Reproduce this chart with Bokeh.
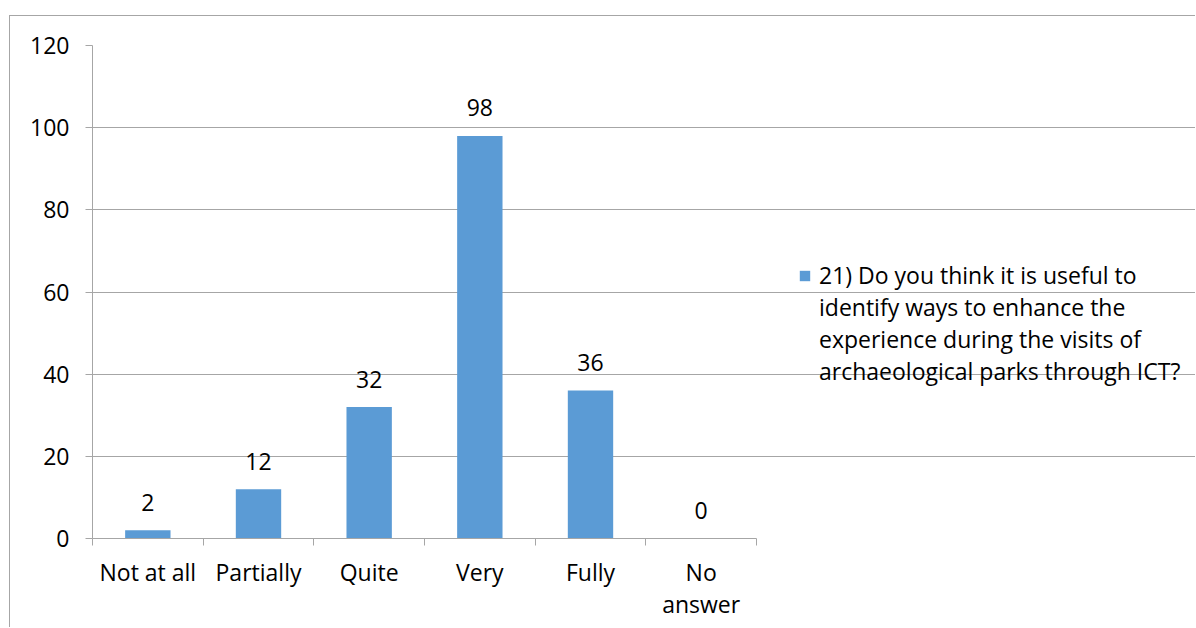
from bokeh.plotting import figure
from bokeh.models import (ColumnDataSource, FixedTicker, LabelSet, Legend, LegendItem, Range1d)
from bokeh.core.properties import value
from bokeh.embed import file_html
from bokeh.resources import INLINE

categories = ["Not at all", "Partially", "Quite", "Very", "Fully", "No answer"]
tick_labels = ["Not at all", "Partially", "Quite", "Very", "Fully", "No\nanswer"]
values = [2, 12, 32, 98, 36, 0]
series_name_lines = ["21) Do you think it is useful to",
                     "identify ways to enhance the",
                     "experience during the visits of",
                     "archaeological parks through ICT?"]
y_ticks = [0, 20, 40, 60, 80, 100, 120]

FONT = "Open Sans"
FS = "23px"
LH = 1.02
GRAY = "#a6a6a6"
BAR = "#5b9bd5"

n = len(categories)
PLOT_W = 664            # pixel width of the category area
FRAME_W = 1104          # full frame width (category area + legend area)
x_end = n * FRAME_W / PLOT_W

centers = [i + 0.5 for i in range(n)]
src = ColumnDataSource(dict(x=centers, top=values, cat=categories,
                            lab=[str(v) for v in values]))

p = figure(width=1186, height=612, output_backend="svg", toolbar_location=None,
           x_range=Range1d(0, x_end), y_range=Range1d(0, 120),
           min_border_left=82, min_border_right=0, min_border_top=29,
           min_border_bottom=90)
p.margin = (15, 0, 0, 9)
p.styles = {"border-left": "1px solid #a6a6a6", "border-top": "1px solid #a6a6a6"}
p.outline_line_color = None
p.background_fill_color = "white"
p.border_fill_color = "white"

r = p.vbar(x="x", top="top", width=0.41, bottom=0, source=src,
           fill_color=BAR, line_color=None)
# continuation lines of the wrapped legend entry carry no swatch
blank = p.vbar(x=[], top=[], width=0.41, fill_alpha=0, line_alpha=0)

# y axis
ya = p.yaxis[0]
ya.ticker = FixedTicker(ticks=y_ticks, minor_ticks=[])
ya.axis_line_color = GRAY
ya.major_tick_line_color = GRAY
ya.major_tick_out = 7
ya.major_tick_in = 0
ya.minor_tick_line_color = None
ya.major_label_text_font = FONT
ya.major_label_text_font_size = FS
ya.major_label_text_color = "black"
ya.major_label_standoff = 16

# x axis: labels at centres, ticks at category boundaries
xa = p.xaxis[0]
xa.bounds = (0, n)
xa.ticker = FixedTicker(ticks=centers, minor_ticks=list(range(n + 1)))
xa.major_label_overrides = {c: t for c, t in zip(centers, tick_labels)}
xa.axis_line_color = GRAY
xa.major_tick_line_color = None
xa.minor_tick_line_color = GRAY
xa.minor_tick_out = 7
xa.minor_tick_in = 0
xa.major_label_text_font = FONT
xa.major_label_text_font_size = FS
xa.major_label_text_color = "black"
xa.major_label_text_line_height = LH
xa.major_label_standoff = 10

p.xgrid.grid_line_color = None
p.ygrid.grid_line_color = GRAY
p.ygrid.ticker = FixedTicker(ticks=y_ticks)
p.ygrid.bounds = (0, n)

labels = LabelSet(x="x", y="top", text="lab", source=src, text_align="center",
                  text_baseline="middle", y_offset=28, text_font=value(FONT),
                  text_font_size=value(FS), text_color="black")
p.add_layout(labels)

items = [LegendItem(label=series_name_lines[0], renderers=[r])]
items += [LegendItem(label=t, renderers=[blank]) for t in series_name_lines[1:]]
legend = Legend(items=items,
                location=(706, 151), padding=0, margin=0,
                border_line_alpha=0, background_fill_alpha=0,
                glyph_width=13, glyph_height=13, label_standoff=8,
                label_text_font=FONT, label_text_font_size=FS,
                label_text_color="black", label_height=32,
                label_text_line_height=1.0, spacing=0)
p.add_layout(legend, "center")

open("out.html", "w").write(file_html(p, INLINE))
